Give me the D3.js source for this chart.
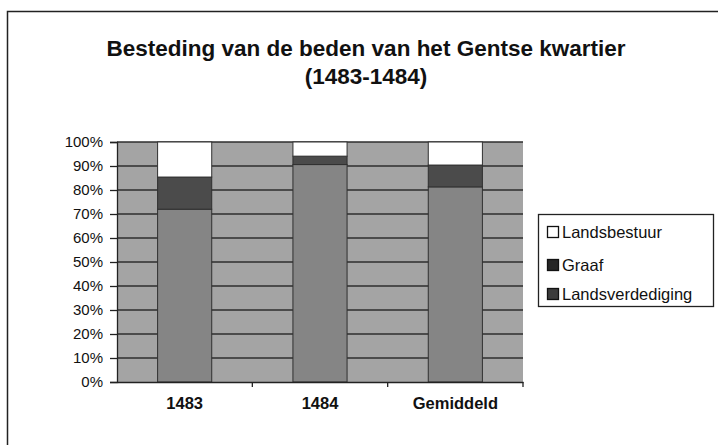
<!DOCTYPE html>
<html>
<head>
<meta charset="utf-8">
<script src="https://cdn.jsdelivr.net/npm/d3@7"></script>
<style>
  body { margin: 0; background: #fff; }
  text { font-family: "Liberation Sans", Arial, sans-serif; fill: #111; }
</style>
</head>
<body>
<div id="chart"></div>
<script>
// data (percent of total)
let categories = ["1483", "1484", "Gemiddeld"];
let series = ["Landsverdediging", "Graaf", "Landsbestuur"];
let landsverdediging = [72, 90.6, 81.3];
let graaf = [13.4, 3.5, 9.1];
let landsbestuur = [14.6, 5.9, 9.6];
let yTicks = [0, 10, 20, 30, 40, 50, 60, 70, 80, 90, 100];

let W = 718, H = 445;
let colors = { "Landsverdediging": "#858585", "Graaf": "#4b4b4b", "Landsbestuur": "#ffffff" };
let legendColors = { "Landsverdediging": "#3c3c3c", "Graaf": "#262626", "Landsbestuur": "#ffffff" };

var svg = d3.select("#chart").append("svg")
    .attr("width", W)
    .attr("height", H);

// outer frame (right and bottom fall outside the picture)
svg.append("rect")
    .attr("x", 7.5).attr("y", 11.5)
    .attr("width", W + 10).attr("height", H + 10)
    .attr("fill", "#fff")
    .attr("stroke", "#222")
    .attr("stroke-width", 1.5);

// title
var title = svg.append("g").style("font-weight", "bold").style("font-size", "22.5px");
title.append("text")
    .attr("x", 366).attr("y", 56)
    .attr("text-anchor", "middle")
    .text("Besteding van de beden van het Gentse kwartier");
title.append("text")
    .attr("x", 366).attr("y", 84)
    .attr("text-anchor", "middle")
    .text("(1483-1484)");

var plot = { left: 117, right: 523, top: 142, bottom: 382 };

var x = d3.scaleBand()
    .domain(categories)
    .range([plot.left, plot.right])
    .paddingInner(0.6)
    .paddingOuter(0.3);

var xOuter = d3.scaleBand()
    .domain(categories)
    .range([plot.left, plot.right]);

var y = d3.scaleLinear()
    .domain([0, 100])
    .range([plot.bottom, plot.top]);

var g = svg.append("g");

// plot area
g.append("rect")
    .attr("x", plot.left).attr("y", plot.top)
    .attr("width", plot.right - plot.left)
    .attr("height", plot.bottom - plot.top)
    .attr("fill", "#a4a4a4");

// gridlines
g.selectAll(".grid")
    .data(yTicks.filter(d => d > 0))
    .enter().append("line")
    .attr("class", "grid")
    .attr("x1", plot.left).attr("x2", plot.right)
    .attr("y1", d => y(d)).attr("y2", d => y(d))
    .attr("stroke", "#2e2e2e")
    .attr("stroke-width", 1.3);

// stacked bars
var table = categories.map(function(c, i) {
    return { cat: c, Landsverdediging: landsverdediging[i], Graaf: graaf[i], Landsbestuur: landsbestuur[i] };
});
var stacked = d3.stack().keys(series)(table);

g.selectAll(".layer")
    .data(stacked)
    .enter().append("g")
    .attr("class", "layer")
    .attr("fill", d => colors[d.key])
    .selectAll("rect")
    .data(d => d)
    .enter().append("rect")
    .attr("x", d => x(d.data.cat))
    .attr("width", x.bandwidth())
    .attr("y", d => y(d[1]))
    .attr("height", d => y(d[0]) - y(d[1]))
    .attr("stroke", "#303030")
    .attr("stroke-width", 1);

// y axis
var yAxis = g.append("g")
    .attr("transform", "translate(" + plot.left + ",0)")
    .call(d3.axisLeft(y).tickValues(yTicks).tickSize(7).tickPadding(7).tickFormat(d => d + "%"));
yAxis.select(".domain").attr("stroke", "#222").attr("stroke-width", 1.3);
yAxis.selectAll(".tick line").attr("stroke", "#222").attr("stroke-width", 1.3);
yAxis.selectAll("text").style("font-size", "15px").attr("fill", "#111");

// x axis
var xAxis = g.append("g")
    .attr("transform", "translate(0," + plot.bottom + ")")
    .call(d3.axisBottom(xOuter).tickSize(0).tickPadding(15));
xAxis.select(".domain").attr("stroke", "#222").attr("stroke-width", 1.3);
xAxis.selectAll("text").style("font-size", "16.5px").style("font-weight", "bold").attr("fill", "#111");
xAxis.selectAll(".sep")
    .data(categories)
    .enter().append("line")
    .attr("x1", d => xOuter(d) + xOuter.bandwidth()).attr("x2", d => xOuter(d) + xOuter.bandwidth())
    .attr("y1", 0).attr("y2", 5)
    .attr("stroke", "#222").attr("stroke-width", 1.3);

// legend
var legend = svg.append("g");
legend.append("rect")
    .attr("x", 538.5).attr("y", 214.5)
    .attr("width", 175).attr("height", 92)
    .attr("fill", "#fff")
    .attr("stroke", "#222")
    .attr("stroke-width", 1.3);

var legendItems = ["Landsbestuur", "Graaf", "Landsverdediging"];
var legendY = [232, 265, 294];
var items = legend.selectAll(".item")
    .data(legendItems)
    .enter().append("g")
    .attr("class", "item")
    .attr("transform", (d, i) => "translate(547," + legendY[i] + ")");
items.append("rect")
    .attr("x", 0.5).attr("y", -5.5)
    .attr("width", 11).attr("height", 11)
    .attr("fill", d => legendColors[d])
    .attr("stroke", "#111")
    .attr("stroke-width", 1.3);
items.append("text")
    .attr("x", 15).attr("y", 6)
    .style("font-size", "16.5px")
    .text(d => d);
</script>
</body>
</html>
